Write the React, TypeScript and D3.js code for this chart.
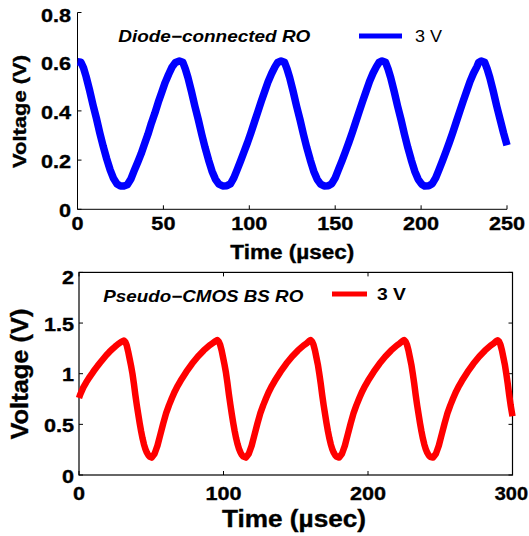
import React from "react";
import * as d3 from "d3";

// ---------- Data ----------
const topTime = [
  0, 2, 3.5, 5, 7, 9, 11, 13, 15, 17, 19, 21, 23, 25, 27, 29, 31, 33, 35, 37, 39, 41, 43, 45, 47, 49, 51, 53, 55, 57, 59.3, 61.3,
  62.8, 64.3, 66.3, 68.3, 70.3, 72.3, 74.3, 76.3, 78.3, 80.3, 82.3, 84.5, 87, 89, 91, 93, 95, 97, 99, 101, 103, 105, 107, 109, 111, 113, 115, 116.5, 118.5, 120.5,
  122, 123.5, 125.5, 127.5, 129.5, 131.5, 133.5, 135.5, 137.5, 139.5, 141.5, 143.5, 146, 148, 150, 152, 154, 156, 158, 160, 162, 164, 166, 168, 170, 172, 174, 175.5, 177.3, 179.3,
  180.8, 182.3, 184.3, 186.3, 188.3, 190.3, 192.3, 194.3, 196.3, 198.3, 200.3, 202, 204.5, 206.5, 208.5, 210.5, 212.5, 214.5, 216.5, 218.5, 220.5, 222.5, 224.5, 226.5, 228.5, 230.5, 232.5, 233.5, 235, 237,
  238.5, 240, 242, 244, 246, 248, 250,
];
const topVolt = [
  0.6, 0.598, 0.575, 0.54, 0.485, 0.425, 0.37, 0.31, 0.255, 0.205, 0.16, 0.125, 0.103, 0.095, 0.095, 0.1, 0.122, 0.157, 0.19, 0.225, 0.265, 0.305, 0.35, 0.39, 0.435, 0.475, 0.515, 0.548, 0.578, 0.597, 0.603, 0.598,
  0.57, 0.535, 0.48, 0.42, 0.365, 0.305, 0.25, 0.2, 0.155, 0.122, 0.102, 0.095, 0.096, 0.103, 0.128, 0.162, 0.198, 0.235, 0.272, 0.312, 0.355, 0.397, 0.44, 0.48, 0.52, 0.552, 0.58, 0.597, 0.603, 0.598,
  0.57, 0.535, 0.48, 0.42, 0.365, 0.305, 0.25, 0.2, 0.155, 0.122, 0.102, 0.095, 0.096, 0.104, 0.128, 0.163, 0.198, 0.235, 0.273, 0.313, 0.356, 0.398, 0.44, 0.48, 0.52, 0.553, 0.58, 0.597, 0.603, 0.598,
  0.57, 0.535, 0.48, 0.42, 0.365, 0.305, 0.25, 0.2, 0.155, 0.122, 0.102, 0.095, 0.096, 0.104, 0.128, 0.162, 0.198, 0.235, 0.273, 0.313, 0.356, 0.398, 0.44, 0.48, 0.52, 0.553, 0.58, 0.597, 0.603, 0.598,
  0.57, 0.535, 0.48, 0.42, 0.365, 0.31, 0.26,
];

const botTime = [
  0, 1, 3, 5, 7, 9, 11, 13, 15, 17, 19, 21, 23, 25, 27, 29, 31,
  32, 33, 34, 35, 36, 37, 38, 39, 40, 41, 42, 43, 44, 45, 46, 47, 48, 49, 50.3,
  52.3, 54.3, 56.3, 58.3, 60.3, 62.3, 64.3, 66.3, 68.3, 70.3, 72.3, 74.3, 76.3, 78.3, 80.3, 82.3, 84.3, 86.3, 88.3, 90.3, 92.3, 94.3, 95.7,
  96.7, 97.7, 98.7, 99.7, 100.7, 101.7, 102.7, 103.7, 104.7, 105.7, 106.7, 107.7, 108.7, 109.7, 110.7, 111.7, 112.7, 113.7, 115.5,
  117.5, 119.5, 121.5, 123.5, 125.5, 127.5, 129.5, 131.5, 133.5, 135.5, 137.5, 139.5, 141.5, 143.5, 145.5, 147.5, 149.5, 151.5, 153.5, 155.5, 157.5, 159, 160.3,
  161.3, 162.3, 163.3, 164.3, 165.3, 166.3, 167.3, 168.3, 169.3, 170.3, 171.3, 172.3, 173.3, 174.3, 175.3, 176.3, 177.3, 178.3, 180,
  182, 184, 186, 188, 190, 192, 194, 196, 198, 200, 202, 204, 206, 208, 210, 212, 214, 216, 218, 220, 222, 223.7, 225,
  226, 227, 228, 229, 230, 231, 232, 233, 234, 235, 236, 237, 238, 239, 240, 241, 242, 243, 245,
  247, 249, 251, 253, 255, 257, 259, 261, 263, 265, 267, 269, 271, 273, 275, 277, 279, 281, 283, 285, 287, 288.5, 289.7,
  290.7, 291.7, 292.7, 293.7, 294.7, 295.7, 296.7, 297.7, 298.7, 300,
];
const botVolt = [
  0.76, 0.8, 0.865, 0.915, 0.96, 1.0, 1.042, 1.08, 1.115, 1.15, 1.185, 1.215, 1.242, 1.268, 1.292, 1.312, 1.328,
  1.315, 1.28, 1.22, 1.15, 1.08, 1.0, 0.9, 0.79, 0.69, 0.6, 0.51, 0.43, 0.36, 0.3, 0.255, 0.22, 0.195, 0.18, 0.172,
  0.21, 0.29, 0.4, 0.51, 0.61, 0.69, 0.76, 0.825, 0.88, 0.93, 0.975, 1.02, 1.06, 1.1, 1.135, 1.17, 1.2, 1.23, 1.255, 1.28, 1.3, 1.32, 1.332,
  1.318, 1.285, 1.23, 1.16, 1.09, 1.01, 0.91, 0.8, 0.7, 0.605, 0.515, 0.435, 0.365, 0.305, 0.26, 0.225, 0.198, 0.182, 0.172,
  0.21, 0.29, 0.4, 0.51, 0.61, 0.69, 0.76, 0.825, 0.88, 0.93, 0.975, 1.02, 1.06, 1.1, 1.135, 1.17, 1.2, 1.23, 1.255, 1.28, 1.3, 1.32, 1.332,
  1.318, 1.285, 1.23, 1.16, 1.09, 1.0, 0.9, 0.79, 0.69, 0.6, 0.51, 0.43, 0.36, 0.3, 0.255, 0.22, 0.195, 0.18, 0.172,
  0.21, 0.29, 0.4, 0.51, 0.61, 0.69, 0.76, 0.825, 0.88, 0.93, 0.975, 1.02, 1.06, 1.1, 1.135, 1.17, 1.2, 1.23, 1.255, 1.28, 1.3, 1.32, 1.332,
  1.318, 1.285, 1.23, 1.16, 1.09, 1.0, 0.9, 0.79, 0.69, 0.6, 0.51, 0.43, 0.36, 0.3, 0.255, 0.22, 0.195, 0.18, 0.172,
  0.21, 0.29, 0.4, 0.51, 0.61, 0.69, 0.76, 0.825, 0.88, 0.93, 0.975, 1.02, 1.06, 1.1, 1.135, 1.17, 1.2, 1.23, 1.255, 1.28, 1.3, 1.32, 1.33,
  1.318, 1.285, 1.23, 1.16, 1.09, 1.0, 0.9, 0.79, 0.69, 0.58,
];

const topXTicks = [0, 50, 100, 150, 200, 250];
const topYTicks = [0, 0.2, 0.4, 0.6, 0.8];
const botXTicks = [0, 100, 200, 300];
const botYTicks = [0, 0.5, 1, 1.5, 2];

const FONT = "'Liberation Sans', Arial, Helvetica, sans-serif";

type STextProps = {
  x: number;
  y: number;
  anchor?: "start" | "middle" | "end";
  size: number;
  sx?: number;
  weight?: string;
  italic?: boolean;
  children: React.ReactNode;
};

function SText({ x, y, anchor = "start", size, sx = 1, weight = "bold", italic = false, children }: STextProps) {
  return (
    <text
      transform={`translate(${x},${y}) scale(${sx},1)`}
      textAnchor={anchor}
      fontSize={size}
      fontWeight={weight}
      fontStyle={italic ? "italic" : "normal"}
      fontFamily={FONT}
      fill="#000"
      stroke="#000"
      strokeWidth={0.35}
    >
      {children}
    </text>
  );
}

export default function App() {
  // Top panel scales
  const tx = d3.scaleLinear().domain([0, 250]).range([77.5, 507]);
  const ty = d3.scaleLinear().domain([0, 0.8]).range([209.3, 12.5]);
  // Bottom panel scales
  const bx = d3.scaleLinear().domain([0, 300]).range([79, 512.5]);
  const by = d3.scaleLinear().domain([0, 2]).range([475, 272.4]);

  const topLine = d3
    .line<number>()
    .x((_, i) => tx(topTime[i]))
    .y((v) => ty(v))
    .curve(d3.curveLinear);
  const botLine = d3
    .line<number>()
    .x((_, i) => bx(botTime[i]))
    .y((v) => by(v))
    .curve(d3.curveLinear);

  const tl = 4;
  const fmtTop = (v: number) => (v === 0 ? "0" : v.toFixed(1));
  const fmtBot = (v: number) => String(v);

  return (
    <svg
      width={529}
      height={536}
      style={{ position: "absolute", left: 0, top: 0, background: "#fff" }}
    >
      <rect x={0} y={0} width={529} height={536} fill="#fff" />

      {/* ---------- TOP PANEL ---------- */}
      <g>
        <line x1={tx(0)} x2={tx(0)} y1={ty(0.8)} y2={ty(0)} stroke="#000" strokeWidth={1} />
        <line x1={tx(0)} x2={tx(250)} y1={ty(0)} y2={ty(0)} stroke="#000" strokeWidth={1} />
        {topXTicks.map((t) => (
          <line key={"tx" + t} x1={tx(t)} x2={tx(t)} y1={ty(0)} y2={ty(0) - tl} stroke="#000" strokeWidth={1} />
        ))}
        {topYTicks.map((v) => (
          <line key={"ty" + v} x1={tx(0)} x2={tx(0) + tl} y1={ty(v)} y2={ty(v)} stroke="#000" strokeWidth={1} />
        ))}
        {topXTicks.map((t) => (
          <SText key={"txl" + t} x={tx(t)} y={230} anchor="middle" size={18.5} sx={1.17}>
            {t}
          </SText>
        ))}
        {topYTicks.map((v) => (
          <SText key={"tyl" + v} x={71} y={Math.max(ty(v), 14) + 8} anchor="end" size={18.5} sx={1.17}>
            {fmtTop(v)}
          </SText>
        ))}
        <text
          transform={`translate(26,111.5) rotate(-90)`}
          textAnchor="middle"
          fontSize={18}
          fontWeight="bold"
          fontFamily={FONT}
          stroke="#000"
          strokeWidth={0.35}
          textLength={113}
          lengthAdjust="spacingAndGlyphs"
        >
          Voltage (V)
        </text>
        <text
          x={292.3}
          y={259}
          textAnchor="middle"
          fontSize={19.5}
          fontWeight="bold"
          fontFamily={FONT}
          stroke="#000"
          strokeWidth={0.35}
          textLength={124}
          lengthAdjust="spacingAndGlyphs"
        >
          Time (µsec)
        </text>

        <path
          d={topLine(topVolt) || ""}
          fill="none"
          stroke="#0000ff"
          strokeWidth={7.5}
          strokeLinejoin="round"
          strokeLinecap="butt"
        />

        <text
          x={118.3}
          y={41.7}
          fontSize={16.5}
          fontWeight="bold"
          fontStyle="italic"
          fontFamily={FONT}
          textLength={192}
          lengthAdjust="spacingAndGlyphs"
        >
          Diode−connected RO
        </text>
        <line x1={359} x2={402} y1={36} y2={36} stroke="#0000ff" strokeWidth={5} />
        <text
          x={415}
          y={41.7}
          fontSize={16.5}
          fontWeight="normal"
          fontFamily={FONT}
          textLength={27}
          lengthAdjust="spacingAndGlyphs"
        >
          3 V
        </text>
      </g>

      {/* ---------- BOTTOM PANEL ---------- */}
      <g>
        <rect
          x={bx(0)}
          y={by(2)}
          width={bx(300) - bx(0)}
          height={by(0) - by(2)}
          fill="none"
          stroke="#000"
          strokeWidth={1.2}
        />
        {botXTicks.map((t) => (
          <g key={"bx" + t}>
            <line x1={bx(t)} x2={bx(t)} y1={by(0)} y2={by(0) - tl} stroke="#000" strokeWidth={1} />
            <line x1={bx(t)} x2={bx(t)} y1={by(2)} y2={by(2) + tl} stroke="#000" strokeWidth={1} />
          </g>
        ))}
        {botYTicks.map((v) => (
          <g key={"by" + v}>
            <line x1={bx(0)} x2={bx(0) + tl} y1={by(v)} y2={by(v)} stroke="#000" strokeWidth={1} />
            <line x1={bx(300)} x2={bx(300) - tl} y1={by(v)} y2={by(v)} stroke="#000" strokeWidth={1} />
          </g>
        ))}
        {botXTicks.map((t) => (
          <SText
            key={"bxl" + t}
            x={t === 300 ? 528 : bx(t)}
            y={500}
            anchor={t === 300 ? "end" : "middle"}
            size={18.5}
            sx={t === 300 ? 1.08 : 1.17}
          >
            {t}
          </SText>
        ))}
        {botYTicks.map((v) => (
          <SText key={"byl" + v} x={74} y={Math.max(by(v), 276) + 7.5} anchor="end" size={18.5} sx={1.17}>
            {fmtBot(v)}
          </SText>
        ))}
        <text
          transform={`translate(28,374) rotate(-90)`}
          textAnchor="middle"
          fontSize={23}
          fontWeight="bold"
          fontFamily={FONT}
          stroke="#000"
          strokeWidth={0.35}
          textLength={131}
          lengthAdjust="spacingAndGlyphs"
        >
          Voltage (V)
        </text>
        <text
          x={294}
          y={527}
          textAnchor="middle"
          fontSize={23}
          fontWeight="bold"
          fontFamily={FONT}
          stroke="#000"
          strokeWidth={0.35}
          textLength={144}
          lengthAdjust="spacingAndGlyphs"
        >
          Time (µsec)
        </text>

        <path
          d={botLine(botVolt) || ""}
          fill="none"
          stroke="#ff0000"
          strokeWidth={6.5}
          strokeLinejoin="round"
          strokeLinecap="butt"
        />

        <text
          x={103.3}
          y={301.7}
          fontSize={16.5}
          fontWeight="bold"
          fontStyle="italic"
          fontFamily={FONT}
          textLength={200}
          lengthAdjust="spacingAndGlyphs"
        >
          Pseudo−CMOS BS RO
        </text>
        <line x1={332} x2={367} y1={294} y2={294} stroke="#ff0000" strokeWidth={5} />
        <text
          x={377}
          y={300}
          fontSize={16.5}
          fontWeight="bold"
          fontFamily={FONT}
          textLength={29}
          lengthAdjust="spacingAndGlyphs"
        >
          3 V
        </text>
      </g>
    </svg>
  );
}
